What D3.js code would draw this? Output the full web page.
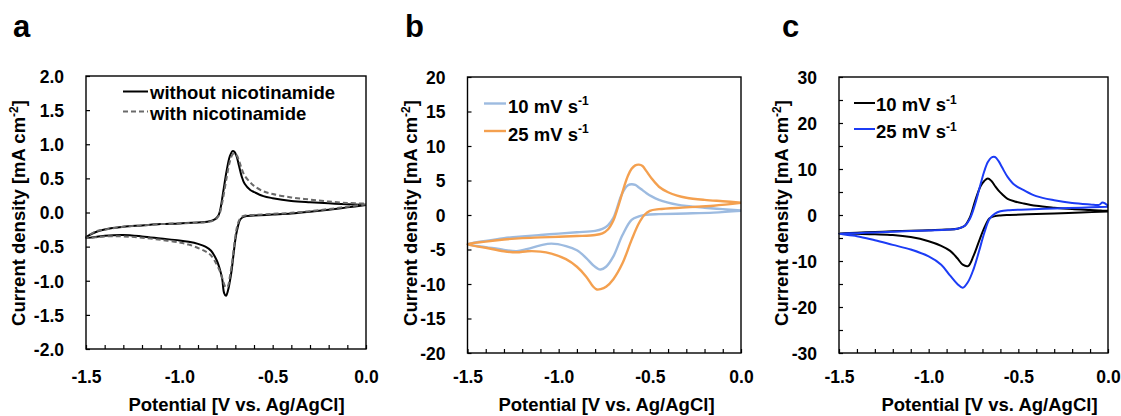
<!DOCTYPE html>
<html>
<head>
<meta charset="utf-8">
<script src="https://cdn.jsdelivr.net/npm/d3@7"></script>
<style>
    body { margin: 0; background: #fff; }
    svg text { font-family: "Liberation Sans", Arial, sans-serif; font-weight: bold; fill: #000; }
</style>
</head>
<body>
<svg id="chart" width="1121" height="416"></svg>
<script>
// ---- data (potential in V vs Ag/AgCl, current density in mA cm-2) ----
// panel a : lower branch scanned 0 -> -1.5 V, upper branch -1.5 -> 0 V
var aLowerE = [0, -0.1, -0.2, -0.3, -0.4, -0.5, -0.6, -0.64, -0.66, -0.675, -0.69, -0.70, -0.71, -0.72, -0.73, -0.74, -0.75, -0.76, -0.77, -0.78, -0.80, -0.83, -0.86, -0.90, -0.95, -1.0, -1.1, -1.2, -1.3, -1.4, -1.5];
var aUpperE = [-1.5, -1.45, -1.4, -1.3, -1.2, -1.1, -1.0, -0.9, -0.85, -0.81, -0.79, -0.78, -0.765, -0.746, -0.73, -0.715, -0.705, -0.693, -0.68, -0.666, -0.65, -0.62, -0.6, -0.55, -0.5, -0.4, -0.3, -0.2, -0.1, 0];
var aWithoutLower = [0.11, 0.075, 0.04, 0.01, -0.015, -0.03, -0.045, -0.05, -0.07, -0.11, -0.25, -0.40, -0.62, -0.85, -1.02, -1.15, -1.22, -1.18, -0.98, -0.86, -0.70, -0.56, -0.50, -0.46, -0.43, -0.41, -0.38, -0.35, -0.33, -0.34, -0.37];
var aWithoutUpper = [-0.37, -0.29, -0.25, -0.21, -0.19, -0.17, -0.16, -0.145, -0.135, -0.10, -0.04, 0.05, 0.30, 0.62, 0.82, 0.90, 0.89, 0.82, 0.68, 0.53, 0.42, 0.33, 0.30, 0.24, 0.21, 0.17, 0.15, 0.135, 0.12, 0.11];
var aWithLower = [0.12, 0.085, 0.05, 0.02, -0.005, -0.02, -0.035, -0.04, -0.055, -0.09, -0.20, -0.35, -0.56, -0.78, -0.95, -1.08, -1.10, -1.05, -0.96, -0.88, -0.76, -0.63, -0.57, -0.52, -0.47, -0.44, -0.40, -0.37, -0.35, -0.35, -0.37];
var aWithUpper = [-0.36, -0.28, -0.25, -0.21, -0.19, -0.17, -0.16, -0.15, -0.14, -0.11, -0.05, 0.02, 0.22, 0.52, 0.74, 0.85, 0.87, 0.84, 0.76, 0.64, 0.54, 0.44, 0.39, 0.31, 0.27, 0.22, 0.19, 0.16, 0.14, 0.13];

// panel b
var bLowerE = [0, -0.15, -0.3, -0.45, -0.5, -0.53, -0.56, -0.6, -0.65, -0.7, -0.74, -0.77, -0.79, -0.81, -0.85, -0.9, -0.96, -1.04, -1.1, -1.17, -1.23, -1.3, -1.4, -1.5];
var bUpperE = [-1.5, -1.4, -1.3, -1.2, -1.1, -1.0, -0.9, -0.8, -0.76, -0.73, -0.7, -0.68, -0.66, -0.64, -0.62, -0.6, -0.58, -0.56, -0.54, -0.52, -0.49, -0.45, -0.4, -0.35, -0.3, -0.2, -0.1, 0];
var b10Lower = [0.6, 0.35, 0.22, 0.12, 0.08, 0.0, -0.2, -0.7, -2.9, -6.0, -7.5, -7.9, -7.7, -7.3, -6.2, -5.1, -4.5, -4.15, -4.4, -4.9, -5.25, -5.05, -4.65, -4.25];
var b10Upper = [-4.25, -3.75, -3.35, -3.1, -2.9, -2.7, -2.5, -2.3, -2.0, -1.5, -0.4, 1.0, 2.6, 3.7, 4.3, 4.45, 4.35, 4.0, 3.6, 3.2, 2.7, 2.2, 1.8, 1.5, 1.3, 1.05, 0.85, 0.65];
var b25Lower = [1.75, 1.35, 1.1, 0.85, 0.6, 0.0, -1.2, -3.6, -7.0, -9.3, -10.4, -10.75, -10.8, -10.4, -8.9, -7.5, -6.4, -5.6, -5.3, -5.25, -5.4, -5.25, -4.75, -4.25];
var b25Upper = [-4.25, -3.85, -3.55, -3.35, -3.25, -3.15, -3.05, -2.9, -2.65, -2.1, -0.8, 0.7, 2.4, 4.2, 5.7, 6.7, 7.2, 7.3, 7.1, 6.4, 5.3, 4.1, 3.3, 2.8, 2.5, 2.2, 2.0, 1.8];

// panel c
var cLowerE = [0, -0.15, -0.3, -0.45, -0.55, -0.6, -0.63, -0.66, -0.69, -0.72, -0.75, -0.78, -0.81, -0.84, -0.88, -0.93, -1.0, -1.1, -1.2, -1.3, -1.4, -1.5];
var cUpperE = [-1.5, -1.4, -1.3, -1.2, -1.1, -1.0, -0.9, -0.84, -0.8, -0.77, -0.74, -0.71, -0.69, -0.67, -0.65, -0.63, -0.61, -0.59, -0.56, -0.52, -0.47, -0.4, -0.3, -0.2, -0.1, -0.05, -0.03, 0];
var c10Lower = [0.75, 0.55, 0.35, 0.15, 0.0, -0.1, -0.25, -0.7, -2.8, -5.8, -8.9, -11.1, -10.8, -9.4, -7.8, -6.7, -5.7, -4.8, -4.35, -4.2, -4.1, -4.0];
var c10Upper = [-4.0, -3.85, -3.7, -3.55, -3.45, -3.3, -3.15, -3.0, -2.4, -0.5, 3.2, 6.3, 7.4, 7.95, 7.4, 6.3, 5.3, 4.5, 3.5, 2.95, 2.5, 2.0, 1.6, 1.3, 1.1, 1.0, 0.95, 0.9];
var c25Lower = [1.8, 1.6, 1.4, 1.2, 1.05, 0.8, 0.3, -0.8, -3.9, -8.0, -11.8, -14.5, -15.8, -15.0, -13.2, -10.8, -9.0, -7.5, -6.5, -5.5, -4.6, -4.1];
var c25Upper = [-4.1, -3.95, -3.8, -3.65, -3.5, -3.35, -3.2, -3.0, -2.4, -0.8, 2.5, 6.8, 9.5, 11.5, 12.5, 12.6, 11.7, 10.3, 8.3, 6.5, 5.4, 4.1, 3.2, 2.6, 2.3, 2.2, 2.7, 2.0];

// ticks
var xTickLabels = [-1.5, -1.0, -0.5, 0.0];
var xMinorTicks = d3.range(-15, 1).map(function (d) { return d / 10; });
var aYTicks = [-2.0, -1.5, -1.0, -0.5, 0.0, 0.5, 1.0, 1.5, 2.0];
var bYTicks = [-20, -15, -10, -5, 0, 5, 10, 15, 20];
var cYLabels = [-30, -20, -10, 0, 10, 20, 30];
var cYTicks = [-30, -25, -20, -15, -10, -5, 0, 5, 10, 15, 20, 25, 30];

var legendA = ["without nicotinamide", "with nicotinamide"];
var legendRate = ["10 mV s", "25 mV s"];

// ---- layout ----
var svg = d3.select("#chart");
var tickFont = "17.5px";
var legendFont = "18.5px";
var titleFont = "18.5px";
var tickLen = 4;
// plain hyphen as minus sign, like the original figure
var locale = d3.formatLocale({ decimal: ".", thousands: ",", grouping: [3], currency: ["", ""], minus: "-" });
var fmt1 = locale.format(".1f");
var fmt0 = locale.format("d");

function loop(lowE, lowI, upE, upI) {
    var pts = lowE.map(function (e, i) { return [e, lowI[i]]; });
    return pts.concat(upE.slice(1).map(function (e, i) { return [e, upI[i + 1]]; }));
}

function panel(p) {
    var x = d3.scaleLinear().domain([-1.5, 0]).range([p.left, p.right]);
    var y = d3.scaleLinear().domain(p.ydom).range([p.bottom, p.top]);
    var g = svg.append("g");

    // curves
    var line = d3.line()
        .x(function (d) { return x(d[0]); })
        .y(function (d) { return y(d[1]); })
        .curve(d3.curveCatmullRom.alpha(0.5));
    p.series.forEach(function (s) {
        g.append("path")
            .attr("d", line(s.pts))
            .attr("fill", "none")
            .attr("stroke", s.color)
            .attr("stroke-width", s.width)
            .attr("stroke-dasharray", s.dash || null)
            .attr("stroke-linejoin", "round");
    });

    // frame
    g.append("rect")
        .attr("x", p.left).attr("y", p.top)
        .attr("width", p.right - p.left).attr("height", p.bottom - p.top)
        .attr("fill", "none").attr("stroke", "#000").attr("stroke-width", 1.4);

    // x axis
    var axX = d3.axisBottom(x)
        .tickValues(xMinorTicks)
        .tickSizeInner(-tickLen).tickSizeOuter(0)
        .tickPadding(382.5 - p.bottom - 12.4)
        .tickFormat(function (d) {
            return xTickLabels.some(function (v) { return Math.abs(v - d) < 1e-9; }) ? fmt1(d) : "";
        });
    var gx = g.append("g").attr("transform", "translate(0," + p.bottom + ")").call(axX);
    gx.select(".domain").remove();
    gx.selectAll("line").attr("stroke", "#000").attr("stroke-width", 1.2);
    gx.selectAll("text").style("font-size", tickFont).style("font-family", null);

    // y axis
    var axY = d3.axisLeft(y)
        .tickValues(p.yTicks)
        .tickSizeInner(-tickLen).tickSizeOuter(0)
        .tickPadding(22)
        .tickFormat(function (d) { return p.yLabels.indexOf(d) >= 0 ? p.yFormat(d) : ""; });
    var gy = g.append("g").attr("transform", "translate(" + p.left + ",0)").call(axY);
    gy.select(".domain").remove();
    gy.selectAll("line").attr("stroke", "#000").attr("stroke-width", 1.2);
    gy.selectAll("text").style("font-size", tickFont).style("font-family", null).attr("dy", "0.36em");

    // axis titles
    g.append("text")
        .attr("x", p.xTitleX).attr("y", 411)
        .attr("text-anchor", "middle").style("font-size", titleFont)
        .text("Potential [V vs. Ag/AgCl]");
    var yt = g.append("text")
        .attr("transform", "translate(" + (p.yTitleX + 6.5) + ",213) rotate(-90)")
        .attr("text-anchor", "middle").style("font-size", titleFont);
    yt.append("tspan").text("Current density [mA cm");
    yt.append("tspan").attr("dy", -7).style("font-size", "12px").text("-2");
    yt.append("tspan").attr("dy", 7).text("]");

    // panel letter
    g.append("text").attr("x", p.letterX).attr("y", 36.5)
        .style("font-size", "31px").text(p.letter);

    // legend
    p.series.forEach(function (s, i) {
        var L = p.legend[i];
        g.append("line")
            .attr("x1", L.x1).attr("x2", L.x2).attr("y1", L.ly).attr("y2", L.ly)
            .attr("stroke", s.color).attr("stroke-width", s.width)
            .attr("stroke-dasharray", s.dash || null);
        var t = g.append("text").attr("x", L.tx).attr("y", L.ty).style("font-size", legendFont);
        t.append("tspan").text(L.label);
        if (L.sup) t.append("tspan").attr("dy", -7.5).style("font-size", "12px").text(L.sup);
    });
}

panel({
    letter: "a", letterX: 13,
    left: 86, right: 366, top: 76, bottom: 349, ydom: [-2, 2],
    yTicks: aYTicks, yLabels: aYTicks, yFormat: fmt1, yTitleX: 18, xTitleX: 236.5,
    series: [
        { pts: loop(aLowerE, aWithoutLower, aUpperE, aWithoutUpper), color: "#000", width: 2 },
        { pts: loop(aLowerE, aWithLower, aUpperE, aWithUpper), color: "#6a6a6a", width: 2, dash: "5,3" }
    ],
    legend: [
        { x1: 123, x2: 148, ly: 91.5, tx: 150, ty: 98.5, label: legendA[0] },
        { x1: 123, x2: 148, ly: 111.5, tx: 150, ty: 119.5, label: legendA[1] }
    ]
});

panel({
    letter: "b", letterX: 405,
    left: 467.5, right: 741, top: 77, bottom: 353, ydom: [-20, 20],
    yTicks: bYTicks, yLabels: bYTicks, yFormat: fmt0, yTitleX: 410, xTitleX: 606.5,
    series: [
        { pts: loop(bLowerE, b10Lower, bUpperE, b10Upper), color: "#9dbbe0", width: 2.4 },
        { pts: loop(bLowerE, b25Lower, bUpperE, b25Upper), color: "#f4a04f", width: 2.4 }
    ],
    legend: [
        { x1: 484, x2: 506, ly: 103.5, tx: 508, ty: 112.5, label: legendRate[0], sup: "-1" },
        { x1: 484, x2: 506, ly: 131, tx: 508, ty: 140.5, label: legendRate[1], sup: "-1" }
    ]
});

panel({
    letter: "c", letterX: 782,
    left: 839, right: 1108, top: 77, bottom: 353, ydom: [-30, 30],
    yTicks: cYTicks, yLabels: cYLabels, yFormat: fmt0, yTitleX: 781, xTitleX: 989.5,
    series: [
        { pts: loop(cLowerE, c10Lower, cUpperE, c10Upper), color: "#000", width: 2 },
        { pts: loop(cLowerE, c25Lower, cUpperE, c25Upper), color: "#1c3cf5", width: 2 }
    ],
    legend: [
        { x1: 854, x2: 875, ly: 103, tx: 876, ty: 111, label: legendRate[0], sup: "-1" },
        { x1: 854, x2: 875, ly: 129, tx: 876, ty: 138, label: legendRate[1], sup: "-1" }
    ]
});
</script>
</body>
</html>
